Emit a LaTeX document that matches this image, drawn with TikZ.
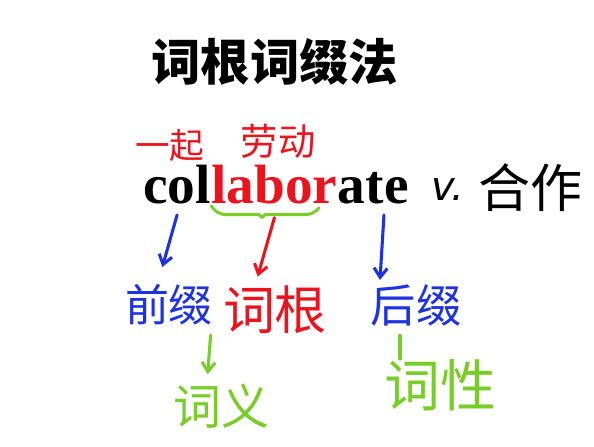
\documentclass[tikz,border=0pt]{standalone}
\usepackage{fontspec}
\newfontfamily\cjk{Noto Sans CJK SC}
\newfontfamily\tms{Liberation Serif}
\newfontfamily\dvs{DejaVu Sans}
\usetikzlibrary{arrows.meta}
\definecolor{hred}{RGB}{235,20,30}
\definecolor{hblue}{RGB}{30,50,225}
\definecolor{hgreen}{RGB}{120,205,40}
\tikzset{
  hand/.style={inner sep=0pt, font=\cjk\fontsize{#1}{#1}\selectfont},
  word/.style={inner sep=0pt, anchor=base west, font=\tms\bfseries\fontsize{41.5}{44}\selectfont},
  harrow/.style={line width=2.3pt, line cap=round, -{Straight Barb[length=7pt,width=10pt,line width=2.3pt]}},
}
\begin{document}
\begin{tikzpicture}[x=0.75pt,y=-0.75pt]
\fill[white] (0,0) rectangle (594,447);
\useasboundingbox (0,0) rectangle (594,447);
% title
\node[inner sep=0pt, font=\cjk\bfseries\fontsize{37}{37}\selectfont] (title) at (275,62) {词根词缀法};
% red glosses
\node[hand=26, text=hred] (yq) at (170,145) {一起};
\node[hand=28, text=hred] (ld) at (278,141) {劳动};
% the word
\node[word] (col) at (143,203) {col};
\node[word, text=hred] (labor) at (col.base east) {labor};
\node[word] (ate) at (labor.base east) {ate};
% part of speech
\node[inner sep=0pt, font=\dvs\itshape\fontsize{30}{30}\selectfont] (v) at (448,190) {v.};
\node[hand=39] (hz) at (530,188) {合作};
% parts
\node[hand=33, text=hblue] (qz) at (169,305) {前缀};
\node[hand=39, text=hred] (cg) at (275,310) {词根};
\node[hand=34, text=hblue] (hzh) at (416,305) {后缀};
\node[hand=36, text=hgreen] (cy) at (221,406) {词义};
\node[hand=42, text=hgreen] (cx) at (440,385) {词性};
% green underline under labor
\draw[hgreen, line width=2.2pt, line cap=round, line join=round]
  ([yshift=-2pt]labor.base west) .. controls +(4,6) and +(-8,0) .. ++(16,9)
  -- ++(32,0) -- ++(3,3) -- ++(3,-3) -- ++(40,0)
  .. controls +(6,0) and +(-3,4) .. ++(14,-7);
% arrows
\draw[harrow, hblue] ([yshift=-9pt]col.base) -- ([xshift=-5pt,yshift=13pt]qz.north);
\draw[harrow, hred] ([yshift=-11pt]labor.base) -- ([xshift=-13pt,yshift=7pt]cg.north);
\draw[harrow, hblue] ([xshift=8pt,yshift=-9pt]ate.base) -- ([xshift=-27pt,yshift=3pt]hzh.north);
\draw[harrow, hgreen] ([xshift=-2pt,yshift=-7pt]qz.south east) -- ([xshift=-10pt,yshift=7pt]cy.north);
\draw[hgreen, line width=2.3pt, line cap=round] ([xshift=-12pt,yshift=-7pt]hzh.south) -- ([xshift=-30pt]cx.north);
\end{tikzpicture}
\end{document}
